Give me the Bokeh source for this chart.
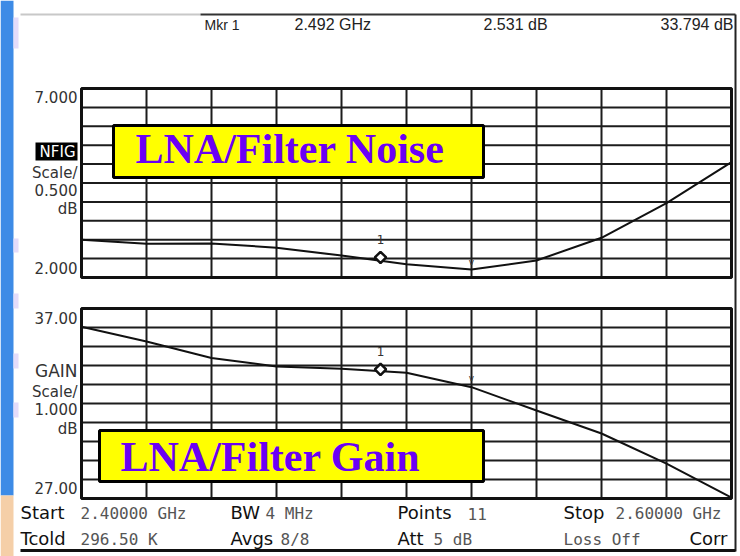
from bokeh.plotting import figure
from bokeh.models import Range1d, Label
from bokeh.embed import file_html
from bokeh.resources import INLINE

# ---------------- data ----------------
freq_ghz = [2.40, 2.42, 2.44, 2.46, 2.48, 2.50, 2.52, 2.54, 2.56, 2.58, 2.60]
noise_fig_db = [3.00, 2.89, 2.90, 2.79, 2.58, 2.35, 2.21, 2.45, 3.05, 3.97, 5.05]
gain_db = [36.04, 35.26, 34.39, 33.95, 33.83, 33.62, 32.86, 31.63, 30.42, 28.84, 27.05]

marker_freq_ghz = [2.492]
marker_nf_db = [2.531]
marker_gain_db = [33.794]
ref_tick_index = 6  # small "v" tick at 2.52 GHz

nf_grid_db = [2.0, 2.5, 3.0, 3.5, 4.0, 4.5, 5.0, 5.5, 6.0, 6.5, 7.0]
gain_grid_db = [27, 28, 29, 30, 31, 32, 33, 34, 35, 36, 37]

header_left = "Mkr 1"
header_freq = "2.492 GHz"
header_nf = "2.531 dB"
header_gain = "33.794 dB"
nf_axis_labels = ["NFIG", "Scale/", "0.500", "dB"]
gain_axis_labels = ["GAIN", "Scale/", "1.000", "dB"]
footer_row1 = [("Start", "2.40000 GHz"), ("BW", "4 MHz"), ("Points", "11"), ("Stop", "2.60000 GHz")]
footer_row2 = [("Tcold", "296.50 K"), ("Avgs", "8/8"), ("Att", "5 dB"), ("", "Loss Off")]
footer_corr = "Corr"
title_noise = "LNA/Filter Noise"
title_gain = "LNA/Filter Gain"

# ---------------- layout (page pixels) ----------------
OFF = 0
W, H = 740, 556
PX_L, PX_R = 81, 731
NF_T, NF_B = 88, 277
G_T, G_B = 308, 498

fmin, fmax = freq_ghz[0], freq_ghz[-1]
nf_min, nf_max = nf_grid_db[0], nf_grid_db[-1]
g_min, g_max = gain_grid_db[0], gain_grid_db[-1]

xs = (PX_R - PX_L) / (fmax - fmin)
x_start = fmin - (PX_L - OFF) / xs
x_end = fmin + (OFF + W - PX_L) / xs

s_nf = (NF_B - NF_T) / (nf_max - nf_min)
nf_start = nf_min - (OFF + H - NF_B) / s_nf
nf_end = nf_max + (NF_T - OFF) / s_nf

s_g = (G_B - G_T) / (g_max - g_min)
g_start = g_min - (OFF + H - G_B) / s_g
g_end = g_max + (G_T - OFF) / s_g


def px_x(f):
    return PX_L + (f - fmin) * xs


def px_nf(v):
    return NF_B - (v - nf_min) * s_nf


def px_g(v):
    return G_B - (v - g_min) * s_g


p = figure(width=W, height=H, x_range=Range1d(x_start, x_end), y_range=Range1d(nf_start, nf_end),
           x_axis_location=None, y_axis_location=None, toolbar_location=None,
           output_backend="svg", min_border=0, title=None)
p.grid.visible = False
p.outline_line_color = None
p.background_fill_color = "white"
p.extra_x_ranges = {"px": Range1d(OFF, OFF + W)}
p.extra_y_ranges = {"gain": Range1d(g_start, g_end), "px": Range1d(OFF + H, OFF)}

PX = dict(x_range_name="px", y_range_name="px")

# ---- slide background strip on the left ----
p.quad(left=[0], right=[13], top=[0], bottom=[495], fill_color="#3d8be6", line_color=None, **PX)
p.quad(left=[0], right=[13], top=[495], bottom=[556], fill_color="#f5cfa8", line_color=None, **PX)
p.quad(left=[13, 13, 13, 13, 13], right=[18, 18, 18, 18, 18],
       top=[17, 238, 293, 353, 402], bottom=[48, 252, 308, 368, 417],
       fill_color="#e4dcfa", line_color=None, **PX)

# ---- instrument frame ----
p.segment(x0=[20, 200], y0=[14, 14], x1=[200, 735], y1=[14, 14],
          line_color=["#c8c8c8", "#333333"], line_width=2, **PX)
p.segment(x0=[735], y0=[14], x1=[735], y1=[551], line_color="#222222", line_width=2, **PX)
p.segment(x0=[20], y0=[550], x1=[735], y1=[550], line_color="#111111", line_width=3, **PX)

# ---- grids (through the data scales) ----
n_f = len(freq_ghz)
grid_col = "#1c1c1c"
# noise panel
p.segment(x0=freq_ghz, y0=[nf_min] * n_f, x1=freq_ghz, y1=[nf_max] * n_f, line_color=grid_col, line_width=2)
p.segment(x0=[fmin] * len(nf_grid_db), y0=nf_grid_db, x1=[fmax] * len(nf_grid_db), y1=nf_grid_db,
          line_color=grid_col, line_width=2)
p.quad(left=[fmin], right=[fmax], bottom=[nf_min], top=[nf_max], fill_color=None,
       line_color="#111111", line_width=3)
# gain panel
p.segment(x0=freq_ghz, y0=[g_min] * n_f, x1=freq_ghz, y1=[g_max] * n_f, line_color=grid_col, line_width=2,
          y_range_name="gain")
p.segment(x0=[fmin] * len(gain_grid_db), y0=gain_grid_db, x1=[fmax] * len(gain_grid_db), y1=gain_grid_db,
          line_color=grid_col, line_width=2, y_range_name="gain")
p.quad(left=[fmin], right=[fmax], bottom=[g_min], top=[g_max], fill_color=None,
       line_color="#111111", line_width=3, y_range_name="gain")

# ---- traces ----
p.line(freq_ghz, noise_fig_db, line_color="#111111", line_width=2)
p.line(freq_ghz, gain_db, line_color="#111111", line_width=2, y_range_name="gain")

# ---- markers ----
p.scatter(marker_freq_ghz, marker_nf_db, marker="square", angle=0.785398, size=8,
          fill_color="white", line_color="#111111", line_width=2.5)
p.scatter(marker_freq_ghz, marker_gain_db, marker="square", angle=0.785398, size=8,
          fill_color="white", line_color="#111111", line_width=2.5, y_range_name="gain")

# ---- title boxes ----
p.quad(left=[113], right=[483], top=[125], bottom=[177], fill_color="#ffff00",
       line_color="#000000", line_width=3, **PX)
p.quad(left=[99], right=[483], top=[430], bottom=[481], fill_color="#ffff00",
       line_color="#000000", line_width=3, **PX)
p.quad(left=[35], right=[77], top=[142], bottom=[160], fill_color="#000000", line_color=None, **PX)


def lab(x, y, text, size, font="DejaVu Sans", color="#222222", align="left", baseline="middle", style="normal"):
    p.add_layout(Label(x=x, y=y, text=text, text_font=font, text_font_size=f"{size}px",
                       text_color=color, text_align=align, text_baseline=baseline,
                       text_font_style=style, **PX))


# header
lab(204, 24, header_left, 14, font="Liberation Sans")
lab(294, 24, header_freq, 16, font="Liberation Sans")
lab(483, 24, header_nf, 16, font="Liberation Sans")
lab(733, 24, header_gain, 16, font="Liberation Sans", align="right")

# left scale labels
lab(77, 96, f"{nf_max:.3f}", 15, color="#333333", align="right")
lab(75, 151, nf_axis_labels[0], 15, color="#ffffff", align="right")
lab(77, 172, nf_axis_labels[1], 15, color="#333333", align="right")
lab(77, 189, nf_axis_labels[2], 15, color="#333333", align="right")
lab(77, 208, nf_axis_labels[3], 15, color="#333333", align="right")
lab(77, 267, f"{nf_min:.3f}", 15, color="#333333", align="right")

lab(77, 317, f"{g_max:.2f}", 15, color="#333333", align="right")
lab(77, 370, gain_axis_labels[0], 17, color="#333333", align="right")
lab(77, 391, gain_axis_labels[1], 15, color="#333333", align="right")
lab(77, 408, gain_axis_labels[2], 15, color="#333333", align="right")
lab(77, 428, gain_axis_labels[3], 15, color="#333333", align="right")
lab(77, 487, f"{g_min:.2f}", 15, color="#333333", align="right")

# marker numbers and reference ticks
mx = px_x(marker_freq_ghz[0])
lab(mx, px_nf(marker_nf_db[0]) - 18, "1", 12, color="#333333", align="center")
lab(mx, px_g(marker_gain_db[0]) - 18, "1", 12, color="#333333", align="center")
rx = px_x(freq_ghz[ref_tick_index])
lab(rx, px_nf(noise_fig_db[ref_tick_index]) - 8, "v", 9, color="#333333", align="center")
lab(rx, px_g(gain_db[ref_tick_index]) - 9, "v", 9, color="#333333", align="center")

# titles
lab(135, 148, title_noise, 42, font="Liberation Serif", color="#6a00f5", style="bold")
lab(120, 456, title_gain, 42, font="Liberation Serif", color="#6a00f5", style="bold")

# footer
col_lab = [20, 230, 397, 563]
col_val1 = [80, 265, 467, 615]
col_val2 = [80, 280, 433, 563]
for i, (k, v) in enumerate(footer_row1):
    lab(col_lab[i], 512, k, 18, color="#111111")
    lab(col_val1[i], 513, v, 16, font="DejaVu Sans Mono", color="#555555")
for i, (k, v) in enumerate(footer_row2):
    if k:
        lab(col_lab[i], 538, k, 18, color="#111111")
    lab(col_val2[i], 539, v, 16, font="DejaVu Sans Mono", color="#555555")
lab(727, 538, footer_corr, 18, color="#111111", align="right")

open("out.html", "w").write(file_html(p, INLINE, title="LNA/Filter Noise & Gain"))
